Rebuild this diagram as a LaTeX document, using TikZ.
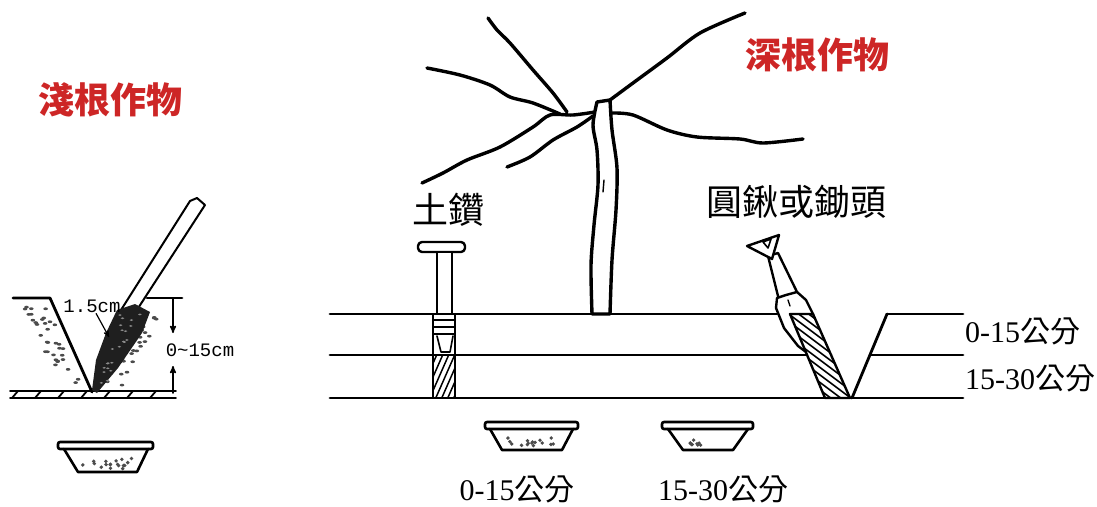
\documentclass[tikz,border=0pt]{standalone}
\usepackage{fontspec}
\setmainfont{Liberation Serif}
\newfontfamily\cjk{Noto Sans CJK TC}
\newfontfamily\mono{Liberation Mono}
\usetikzlibrary{arrows}
\definecolor{cropred}{RGB}{205,38,38}
\tikzset{
  croptitle/.style={font=\cjk\bfseries\fontsize{36}{40}\selectfont,text=cropred},
  toollabel/.style={font=\cjk\fontsize{36}{40}\selectfont},
  depthlabel/.style={font=\fontsize{30}{32}\selectfont,inner sep=0pt},
  cmlabel/.style={font=\mono\fontsize{19}{21}\selectfont,inner sep=1pt},
  groundline/.style={line width=2.8pt},
  rootline/.style={line width=3.4pt},
  basketline/.style={line width=2.6pt},
  speck/.style={fill=black!70}
}
\newcommand\fen{{\cjk 公分}}
\begin{document}
\begin{tikzpicture}[x=1pt,y=-1pt,line join=round,line cap=round,>=stealth']
\useasboundingbox (0,0) rectangle (1097,506);
\pgfmathsetseed{11}
\def\ytop{314} \def\ymid{355} \def\ybot{398}
% shallow
\node[croptitle] (shallow) at (110,100) {淺根作物};
\draw[groundline] (13,298)--(50,298)--(92,392);
\draw[groundline] (147,298)--(182,298);
\draw[line width=1.8pt] (10,391)--(176,391) (10,398)--(176,398);
\foreach \x in {12,35,...,170} \draw[line width=1.8pt] (\x,398)--(\x+6,391);
\foreach \i in {1,...,34}{
  \pgfmathsetmacro\s{rnd}\pgfmathsetmacro\t{rnd}
  \fill[speck] ({(1-\t)*((1-\s)*20+\s*46)+\t*((1-\s)*62+\s*86)},{303+84*\t}) ellipse (2.3 and 1.4);
}
\foreach \i in {1,...,30}{
  \pgfmathsetmacro\s{rnd}\pgfmathsetmacro\t{rnd}
  \fill[speck] ({(1-\t)*((1-\s)*145+\s*160)+\t*((1-\s)*100+\s*124)},{316+72*\t}) ellipse (2.3 and 1.4);
}
\draw[line width=2pt,fill=white] (121,310)--(190,201)--(197,198)--(205,205)--(133,316)--cycle;
\fill[black!88] (117,310)--(135,304)--(150,312)--(142,333)--(118,368)--(97,393)--(92,390)--(96,360)--(106,333)--cycle;
\foreach \i in {1,...,22}{
  \pgfmathsetmacro\s{rnd}\pgfmathsetmacro\t{rnd}
  \fill[white!55!black] ({(1-\t)*((1-\s)*120+\s*142)+\t*((1-\s)*99+\s*106)},{314+70*\t}) ellipse (1.8 and 0.9);
}
\node[cmlabel] (bladewidth) at (92,306) {1.5cm};
\coordinate (bladeedge) at (109,337);
\draw[->,line width=1.2pt] (bladewidth) -- (bladeedge);
\coordinate (dtop) at (173,298);
\coordinate (dbot) at (173,393);
\draw[line width=1.5pt] (166,298)--(181,298);
\draw[->,line width=1.5pt] (dtop) -- (173,333);
\draw[->,line width=1.5pt] (dbot) -- (173,366);
\node[cmlabel] (shallowdepth) at (200,350) {0\textasciitilde15cm};
\draw[basketline,rounded corners=2,fill=white] (58,442) rectangle (153,449);
\draw[basketline] (64,449)--(78,472)--(137,472)--(148,449);
\foreach \i in {1,...,18} \fill[speck] ({82+50*rnd},{458+11*rnd}) circle (1.9);
% deep
\node[croptitle] (deep) at (817,55) {深根作物};
\draw[rootline] plot[smooth] coordinates {(595,112) (573,115) (550,115) (533,127) (500,147) (467,160) (443,173) (422,183)};
\draw[rootline] plot[smooth] coordinates {(567,112) (553,93) (533,70) (510,43) (497,30) (488,18)};
\draw[rootline] plot[smooth] coordinates {(560,114) (533,103) (510,97) (490,85) (460,75) (427,68)};
\draw[rootline] plot[smooth] coordinates {(593,116) (577,127) (553,140) (530,157) (507,167)};
\draw[rootline] plot[smooth] coordinates {(610,100) (633,83) (667,58) (700,33) (745,13)};
\draw[rootline] plot[smooth] coordinates {(612,113) (633,115) (667,130) (697,137) (740,139) (763,143) (803,139)};
\draw[rootline,fill=white] plot[smooth] coordinates {(597,102) (593,125) (597,150) (598,185) (594,225) (591,265) (592,\ytop)}
  -- plot[smooth] coordinates {(610,\ytop) (612,260) (616,210) (617,168) (612,130) (610,100)} -- cycle;
\draw[line width=1.4pt] (604,180)--(603,192);
\draw[groundline] (330,\ytop)--(777,\ytop) (887,\ytop)--(963,\ytop);
\draw[groundline] (330,\ymid)--(831,\ymid) (870,\ymid)--(963,\ymid);
\draw[groundline] (330,\ybot)--(963,\ybot);
\draw[groundline] (852,\ybot)--(887,\ytop);
\node[depthlabel,anchor=west] (topsoil) at (965,331) {0-15\fen};
\node[depthlabel,anchor=west] (subsoil) at (965,378) {15-30\fen};
% auger
\node[toollabel] (auger) at (448,210) {土鑽};
\draw[line width=2.4pt,rounded corners=4,fill=white] (418,242) rectangle (465,252);
\draw[line width=2.4pt,fill=white] (437,252) rectangle (452,\ytop);
\draw[line width=2.4pt,fill=white] (433,\ytop) rectangle (455,\ybot);
\draw[line width=2pt] (433,320)--(455,320) (433,327)--(455,327) (434,334)--(454,334);
\draw[line width=1.6pt] (437,336)--(441,352)--(450,352)--(453,336);
\begin{scope}
\clip (433,\ymid) rectangle (455,\ybot);
\foreach \x in {416,422,...,464} \draw[line width=1.5pt] (\x,402)--(\x+22,352);
\end{scope}
\draw[line width=2.4pt] (433,\ymid) rectangle (455,\ybot);
% hoe
\node[toollabel] (hoe) at (796,202) {圓鍬或鋤頭};
\draw[line width=2.4pt,fill=white] (768,256)--(779,300)--(797,292)--(778,253)--cycle;
\draw[line width=2.4pt,fill=white] (747,246)--(779,235)--(772,259)--cycle;
\draw[line width=1.6pt] (763,242)--(771,239)--(768,248)--cycle;
\draw[line width=2.4pt,fill=white] (777,298)--(776,308)--(784,328)--(798,346)--(806,352)--(813,\ytop)--(806,300)--(797,292)--(786,295)--cycle;
\draw[line width=1.4pt] (788,300)--(790,306);
\begin{scope}
\clip (790,\ytop)--(813,\ytop)--(850,\ybot)--(825,\ybot)--cycle;
\fill[white] (780,300) rectangle (860,400);
\foreach \x in {680,690,...,860} \draw[line width=1.6pt] (\x,300)--(\x+44,333) (\x+44,333)--(\x+132,399);
\end{scope}
\draw[line width=2.4pt] (790,\ytop)--(813,\ytop)--(850,\ybot)--(825,\ybot)--cycle;
% samples
\draw[basketline,rounded corners=2,fill=white] (485,422) rectangle (578,429);
\draw[basketline] (490,429)--(502,450)--(562,450)--(573,429);
\foreach \i in {1,...,16} \fill[speck] ({507+50*rnd},{438+10*rnd}) circle (1.9);
\draw[basketline,rounded corners=2,fill=white] (662,422) rectangle (753,429);
\draw[basketline] (668,429)--(683,450)--(733,450)--(748,429);
\foreach \i in {1,...,9} \fill[speck] ({690+35*rnd},{440+7*rnd}) circle (1.9);
\node[depthlabel] (topsample) at (517,489) {0-15\fen};
\node[depthlabel] (subsample) at (723,489) {15-30\fen};
\end{tikzpicture}
\end{document}
